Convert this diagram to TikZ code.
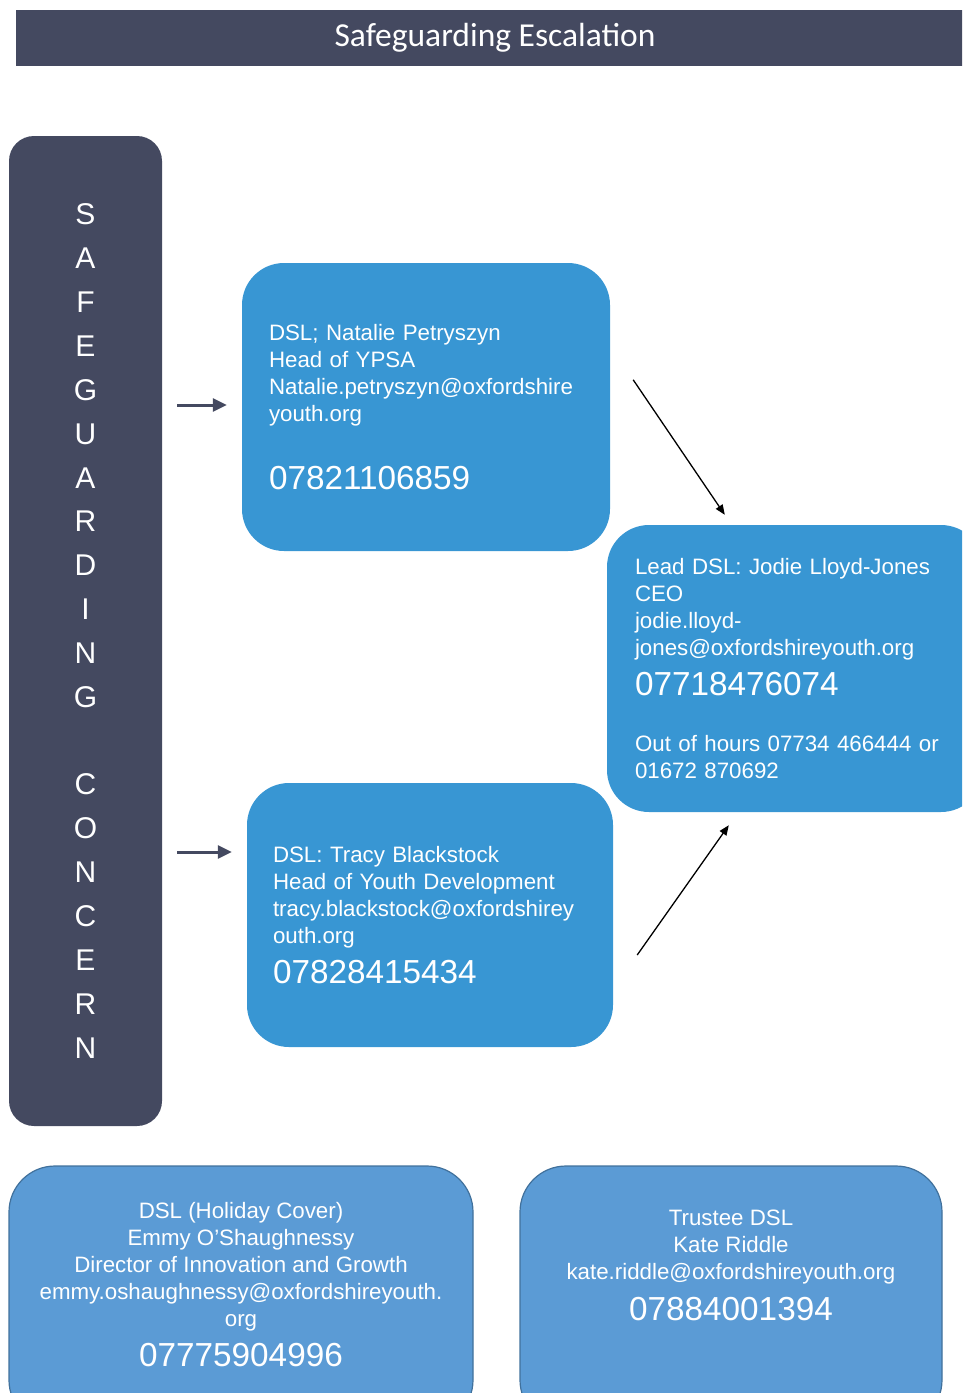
\documentclass[tikz,border=0pt]{standalone}
\usepackage{fontspec}
\setmainfont{Liberation Sans}
\newfontfamily\titlefont{Carlito}
\usepackage{tikz}
\usetikzlibrary{positioning, calc, arrows, arrows.meta}
\tikzset{>=triangle 45}
\definecolor{slate}{RGB}{68,73,96}
\definecolor{dslblue}{RGB}{56,150,211}
\definecolor{coverblue}{RGB}{91,155,213}
\definecolor{coveredge}{RGB}{65,113,156}
\newcommand{\phone}{\fontsize{33.3}{39}\selectfont}
\tikzset{
  dslbox/.style={fill=dslblue, rounded corners=42pt, text=white, align=left,
    text width=314pt, inner xsep=27pt, inner ysep=0pt, font=\fontsize{22.3}{27}\selectfont},
  coverbox/.style={fill=coverblue, draw=coveredge, line width=1.2pt, rounded corners=46pt, minimum height=260pt},
  covertext/.style={text=white, align=center, inner sep=0pt, font=\fontsize{22.3}{27}\selectfont},
  pointer/.style={-{Triangle[length=14pt, width=13pt]}, color=slate, line width=3pt, shorten <=15pt, shorten >=15pt},
  escalate/.style={-{Triangle[length=10pt, width=8pt]}, color=black, line width=1.3pt}
}

\begin{document}
\begin{tikzpicture}[x=1pt, y=-1pt]
    \useasboundingbox (0,0) rectangle (962,1393);
    \clip (0,0) rectangle (962,1393);

    \node[fill=slate, minimum width=958pt, minimum height=56pt, text=white,
      font=\titlefont\fontsize{33.5}{38}\selectfont] (title) at (495,38) {\raisebox{-2pt}{Safeguarding Escalation}};

    \node[fill=slate, rounded corners=25pt, minimum width=153pt, minimum height=990pt,
      text=white, align=center, font=\fontsize{30}{43.85}\selectfont] (concern) at (85.5,631)
      {S\\A\\F\\E\\G\\U\\A\\R\\D\\I\\N\\G\\[43.85pt]C\\O\\N\\C\\E\\R\\N};

    \node[dslbox, minimum height=288pt] (natalie) at (426,407)
      {DSL; Natalie Petryszyn\\Head of YPSA\\Natalie.petryszyn@oxfordshire\\youth.org\\[39pt]{\phone 07821106859}};

    \node[dslbox, text width=320pt, inner xsep=28pt, minimum height=287pt] (jodie) at (795,668.5)
      {Lead DSL: Jodie Lloyd-Jones\\CEO\\jodie.lloyd-\\jones@oxfordshireyouth.org\\[11pt]{\phone 07718476074}\\[29pt]Out of hours 07734 466444 or\\01672 870692};

    \node[dslbox, inner xsep=26pt, minimum height=264pt] (tracy) at (430,915)
      {DSL: Tracy Blackstock\\Head of Youth Development\\tracy.blackstock@oxfordshirey\\outh.org\\[11pt]{\phone 07828415434}};

    \node[coverbox, minimum width=464pt] (holiday) at (241,1296) {};
    \node[covertext, below=37pt of holiday.north] (holidaytext)
      {DSL (Holiday Cover)\\Emmy O’Shaughnessy\\Director of Innovation and Growth\\emmy.oshaughnessy@oxfordshireyouth.\\org\\[11pt]{\phone 07775904996}};

    \node[coverbox, minimum width=422pt] (trustee) at (731,1296) {};
    \node[covertext, below=44pt of trustee.north] (trusteetext)
      {Trustee DSL\\Kate Riddle\\kate.riddle@oxfordshireyouth.org\\[12pt]{\phone 07884001394}};

    \coordinate (natalieIn) at ([yshift=2pt]natalie.west);
    \coordinate (tracyIn) at ([yshift=63pt]tracy.west);

    \path [pointer]
    (concern.east |- natalieIn) edge (natalieIn)
    (concern.east |- tracyIn) edge (tracyIn);

    \path [escalate]
    ($(natalie.north east)+(23,117)$) edge ($(jodie.north west)+(118,-10)$)
    ($(tracy.east)+(24,40)$) edge ($(jodie.south west)+(122,13)$);
  \end{tikzpicture}
\end{document}
